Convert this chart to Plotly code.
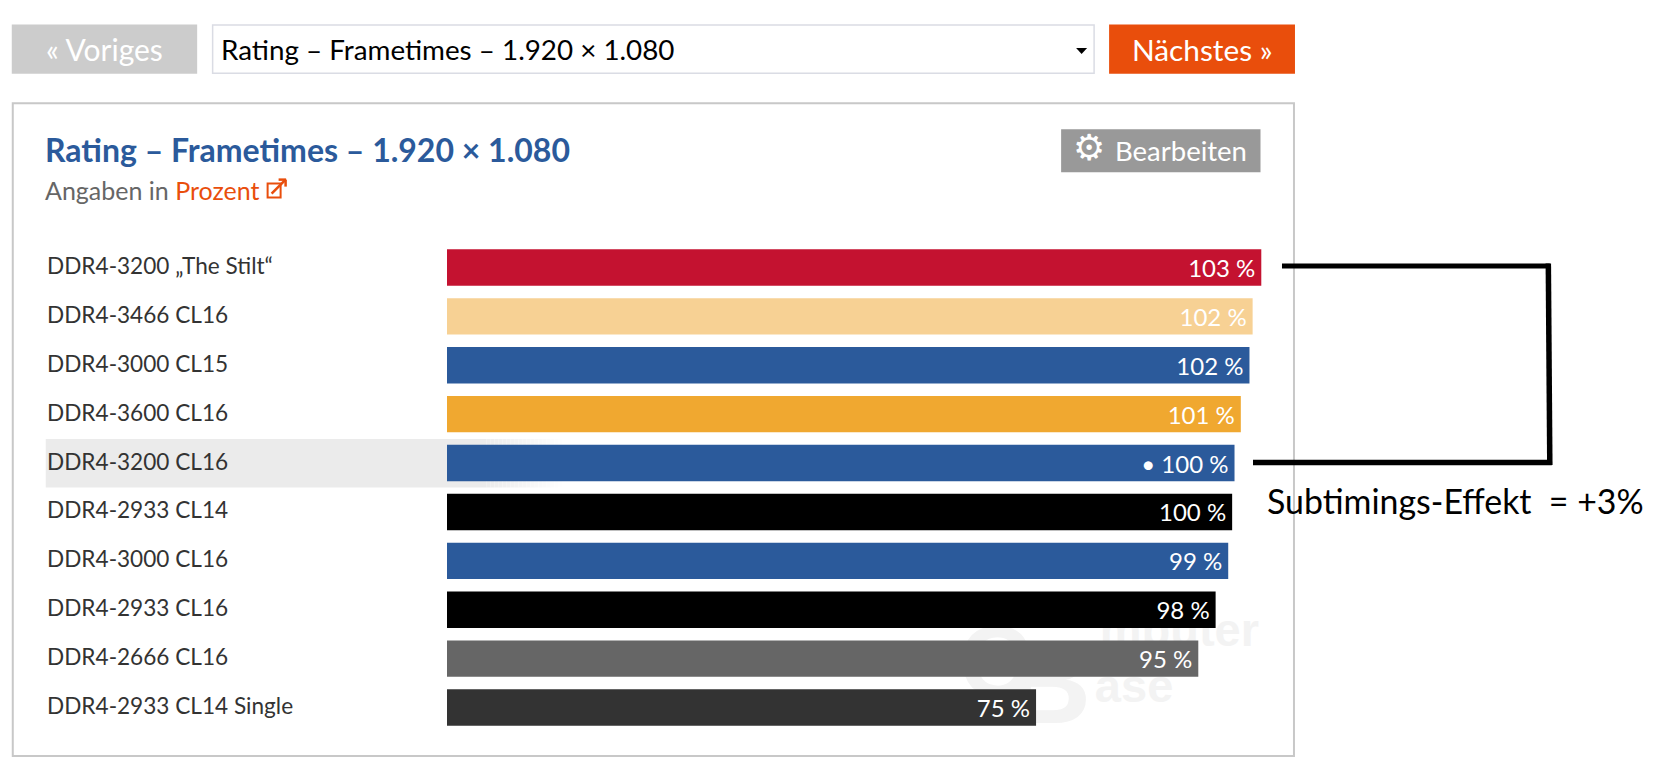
import plotly.graph_objects as go

# ---- data ----
categories = ["DDR4-3200 „The Stilt“", "DDR4-3466 CL16", "DDR4-3000 CL15", "DDR4-3600 CL16",
              "DDR4-3200 CL16", "DDR4-2933 CL14", "DDR4-3000 CL16", "DDR4-2933 CL16",
              "DDR4-2666 CL16", "DDR4-2933 CL14 Single"]
values = [103.4, 102.3, 101.9, 100.8, 100.0, 99.7, 99.2, 97.6, 95.4, 74.8]
value_labels = ["103 %", "102 %", "102 %", "101 %", "• 100 %", "100 %", "99 %", "98 %", "95 %", "75 %"]
bar_colors = ["#C41230", "#F7D194", "#2B5A9B", "#F0A830", "#2B5A9B",
              "#000000", "#2B5A9B", "#000000", "#666666", "#333333"]
chart_title = "Rating – Frametimes – 1.920 × 1.080"
subtitle_prefix = "Angaben in "
subtitle_link = "Prozent"
annotation_note = "Subtimings-Effekt  = +3%"

# ---- page geometry (pixels) ----
W, H = 1666, 758
L, R, T, B = 446.5, 1262.0, 242.5, 732.5
PX_PER_UNIT = 7.88
SANS = "Lato"

def xp(px):
    return (px - L) / (R - L)

def yp(py):
    return (B - py) / (B - T)

shapes, annos = [], []

def rect(x0, y0, x1, y1, fill="rgba(0,0,0,0)", line=None, lw=0, layer="below"):
    shapes.append(dict(type="rect", xref="paper", yref="paper", x0=xp(x0), x1=xp(x1), y0=yp(y0), y1=yp(y1),
                       fillcolor=fill, line=dict(color=line or "rgba(0,0,0,0)", width=lw), layer=layer))

def seg(x0, y0, x1, y1, color="#000000", lw=5, layer="above"):
    shapes.append(dict(type="line", xref="paper", yref="paper", x0=xp(x0), x1=xp(x1), y0=yp(y0), y1=yp(y1),
                       line=dict(color=color, width=lw), layer=layer))

def label(px, py, text, size, color, anchor="left", family=SANS):
    annos.append(dict(xref="paper", yref="paper", x=xp(px), y=yp(py), text=text, showarrow=False,
                      xanchor=anchor, yanchor="middle", align=anchor,
                      font=dict(family=family, size=size, color=color), borderpad=0, borderwidth=0))

# frame and controls
rect(12, 102.5, 1294, 756.5, fill="#FFFFFF", line="#C8C8C8", lw=2)
rect(11, 23.5, 196.5, 73, fill="#CCCCCC")
rect(212, 24, 1094, 72.5, fill="#FFFFFF", line="#DADCE4", lw=1.5)
rect(1109, 23.5, 1295, 73, fill="#E94E0C")
rect(1061, 128.5, 1260.5, 171.5, fill="#999999")

# highlight of the reference row, fading out to the right
rect(45, 439, 486, 487.5, fill="#EBEBEB")
FADE_STEPS = 19
for i in range(FADE_STEPS):
    g = round(235 + (255 - 235) * (i + 1) / (FADE_STEPS + 1))
    rect(486 + i * 4, 439, 486 + (i + 1) * 4, 487.5, fill=f"rgb({g},{g},{g})")

# faint watermark behind the bars
def watermark(x0, y0, x1, y1, text, size, anchor="middle center"):
    shapes.append(dict(type="rect", xref="paper", yref="paper", x0=xp(x0), x1=xp(x1), y0=yp(y0), y1=yp(y1),
                       fillcolor="rgba(0,0,0,0)", line=dict(width=0), layer="below",
                       label=dict(text=text, textposition=anchor,
                                  font=dict(family="Liberation Sans", size=size, color="#F3F3F3"))))

watermark(1040, 603, 1265, 649, "<b>mputer</b>", 47, "middle right")
watermark(1086, 660, 1182, 704, "<b>ase</b>", 47, "middle center")
watermark(960, 612, 1097, 730, "<b>B</b>", 118, "middle right")
watermark(950, 612, 1040, 692, "<b>C</b>", 100, "middle center")

# bracket
seg(1282, 265.5, 1550, 265.5)
seg(1548.5, 263, 1550, 465, lw=5.5)
seg(1253, 462.5, 1552, 462.5, lw=5.5)

# text
label(220, 48.5, chart_title, 27.8, "#000000")
label(104, 48.5, "« Voriges", 30, "#FFFFFF", anchor="center")
label(1202, 48.5, "Nächstes »", 29.8, "#FFFFFF", anchor="center")
label(44, 148.5, f"<b>{chart_title}</b>", 32, "#2B5A9B")
label(44, 189, f'<span style="color:#666666">{subtitle_prefix}</span>{subtitle_link}', 25, "#E94E0C")
label(1088.5, 147, "⚙", 36, "#FFFFFF", anchor="center", family="DejaVu Sans")
label(1115, 150, "Bearbeiten", 27.5, "#FFFFFF")
label(1267, 501, annotation_note, 33.9, "#000000", family="Lato")

# select arrow and external-link icon
shapes.append(dict(type="path", xref="paper", yref="paper", layer="above", line=dict(width=0), fillcolor="#000000",
                   path=f"M {xp(1076)} {yp(47)} L {xp(1087)} {yp(47)} L {xp(1081.5)} {yp(53)} Z"))
rect(267, 183, 280, 197, line="#E94E0C", lw=2, layer="above")
seg(271, 193, 285, 179, color="#E94E0C", lw=2.5)
seg(278, 179, 285.5, 179, color="#E94E0C", lw=2.5)
seg(285, 179, 285, 186, color="#E94E0C", lw=2.5)

# row labels
for c in categories:
    annos.append(dict(xref="paper", yref="y", x=xp(44), y=c, text=c, showarrow=False, xanchor="left",
                      yanchor="middle", yshift=2, font=dict(family=SANS, size=22.6, color="#333333")))

fig = go.Figure(go.Bar(
    y=categories, x=values, orientation="h", marker=dict(color=bar_colors, line=dict(width=0)),
    width=0.745, text=[t + "\u2009" for t in value_labels], textposition="inside", insidetextanchor="end",
    textangle=0, cliponaxis=False, constraintext="none",
    insidetextfont=dict(family=SANS, size=24, color="#FFFFFF"), hoverinfo="skip",
))
fig.update_layout(
    width=W, height=H, margin=dict(l=L, r=W - R, t=T, b=H - B, pad=0, autoexpand=False),
    paper_bgcolor="#FFFFFF", plot_bgcolor="rgba(0,0,0,0)", showlegend=False, shapes=shapes, annotations=annos,
    xaxis=dict(range=[0, (R - L) / PX_PER_UNIT], visible=False, fixedrange=True),
    yaxis=dict(type="category", categoryorder="array", categoryarray=categories, autorange="reversed",
               visible=False, fixedrange=True),
)
fig.write_html("out.html", config=dict(displayModeBar=False),
               post_script="document.body.style.margin='0';document.body.style.overflow='hidden';")
